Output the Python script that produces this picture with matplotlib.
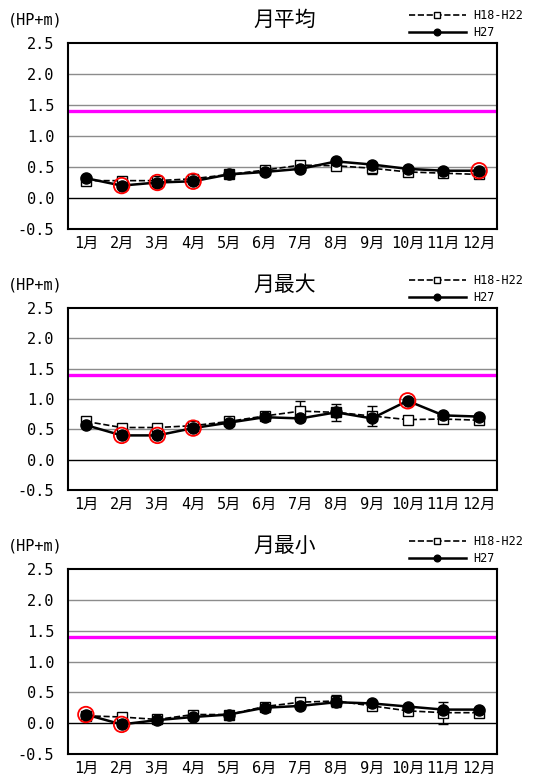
import matplotlib.pyplot as plt

plt.rcParams['font.family'] = ['Noto Sans CJK JP', 'DejaVu Sans']

months = ['1月', '2月', '3月', '4月', '5月', '6月', '7月', '8月', '9月', '10月', '11月', '12月']
titles = ['月平均', '月最大', '月最小']
yticks = [-0.5, 0.0, 0.5, 1.0, 1.5, 2.0, 2.5]
limit_line = 1.4

# H18-H22 (mean of past years) with error range
past_avg = [0.28, 0.28, 0.28, 0.31, 0.38, 0.45, 0.53, 0.52, 0.48, 0.42, 0.40, 0.38]
past_avg_err = [0.03, 0.03, 0.03, 0.03, 0.03, 0.04, 0.04, 0.05, 0.09, 0.04, 0.04, 0.03]
past_max = [0.63, 0.53, 0.53, 0.56, 0.63, 0.72, 0.80, 0.78, 0.72, 0.66, 0.67, 0.65]
past_max_err = [0.04, 0.04, 0.04, 0.04, 0.04, 0.05, 0.16, 0.14, 0.17, 0.04, 0.05, 0.04]
past_min = [0.12, 0.10, 0.06, 0.14, 0.14, 0.27, 0.34, 0.36, 0.28, 0.20, 0.17, 0.17]
past_min_err = [0.03, 0.03, 0.03, 0.04, 0.03, 0.04, 0.04, 0.10, 0.05, 0.05, 0.18, 0.04]

# H27
h27_avg = [0.32, 0.20, 0.25, 0.27, 0.38, 0.42, 0.47, 0.59, 0.54, 0.47, 0.44, 0.44]
h27_max = [0.57, 0.40, 0.40, 0.52, 0.61, 0.70, 0.68, 0.78, 0.68, 0.97, 0.73, 0.71]
h27_min = [0.14, -0.02, 0.05, 0.10, 0.14, 0.25, 0.28, 0.34, 0.32, 0.27, 0.22, 0.22]

# months flagged with red circles (index)
flag_avg = [1, 2, 3, 11]
flag_max = [1, 2, 3, 9]
flag_min = [0, 1]

panels = [
    (past_avg, past_avg_err, h27_avg, flag_avg),
    (past_max, past_max_err, h27_max, flag_max),
    (past_min, past_min_err, h27_min, flag_min),
]

W, H = 554, 783
# axes boxes in pixels: (left, top, right, bottom)
boxes = [(68, 43, 497, 229), (68, 308, 497, 490), (68, 569, 497, 754)]

fig = plt.figure(figsize=(W / 100, H / 100), dpi=100)
x = list(range(len(months)))

for (past, err, h27, flags), title, (l, t, r, b) in zip(panels, titles, boxes):
    ax = fig.add_axes([l / W, 1 - b / H, (r - l) / W, (b - t) / H])
    ax.set_xlim(-0.5, len(months) - 0.5)
    ax.set_ylim(-0.5, 2.5)
    for v in yticks[2:-1]:
        ax.axhline(v, color='#8c8c8c', lw=1.0, zorder=1)
    ax.axhline(0.0, color='black', lw=1.0, zorder=1)
    ax.axhline(limit_line, color='#ff00ff', lw=2.4, zorder=2)

    ax.errorbar(x, past, yerr=err, fmt='none', ecolor='black', elinewidth=1.0,
                capsize=3.5, capthick=1.0, zorder=3)
    ax.plot(x, past, ls='--', color='black', lw=1.2, marker='s', markersize=7.5,
            markerfacecolor='white', markeredgecolor='black', markeredgewidth=1.0,
            zorder=4, label='H18-H22')
    ax.plot(x, h27, ls='-', color='black', lw=1.8, marker='o', markersize=8,
            markerfacecolor='black', zorder=5, label='H27')
    ax.scatter([x[i] for i in flags], [h27[i] for i in flags], s=125,
               facecolors='none', edgecolors='red', linewidths=1.3, zorder=6)

    ax.set_xticks(x)
    ax.set_xticklabels(months, fontsize=11,
                       family=['DejaVu Sans Mono', 'Noto Sans CJK JP'])
    ax.set_yticks(yticks)
    ax.set_yticklabels([f'{v:.1f}' for v in yticks], fontsize=11,
                       family='DejaVu Sans Mono')
    ax.tick_params(length=0)
    ax.tick_params(axis='y', pad=10)
    ax.tick_params(axis='x', pad=5)
    for s in ax.spines.values():
        s.set_linewidth(1.5)

    ax.legend(loc='lower left', bbox_to_anchor=((409 - l) / (r - l), 1.02),
              frameon=False, borderpad=0, borderaxespad=0, handlelength=4.8,
              handletextpad=0.6, labelspacing=0.35, markerscale=0.6,
              prop={'family': 'DejaVu Sans Mono', 'size': 8.5})

    fig.text(285 / W, 1 - (t - 23) / H, title, fontsize=15,
             ha='center', va='center')
    fig.text(8 / W, 1 - (t - 23) / H, '(HP+m)', fontsize=11, ha='left',
             va='center', family='DejaVu Sans Mono')

fig.savefig('out.png', dpi=100)
